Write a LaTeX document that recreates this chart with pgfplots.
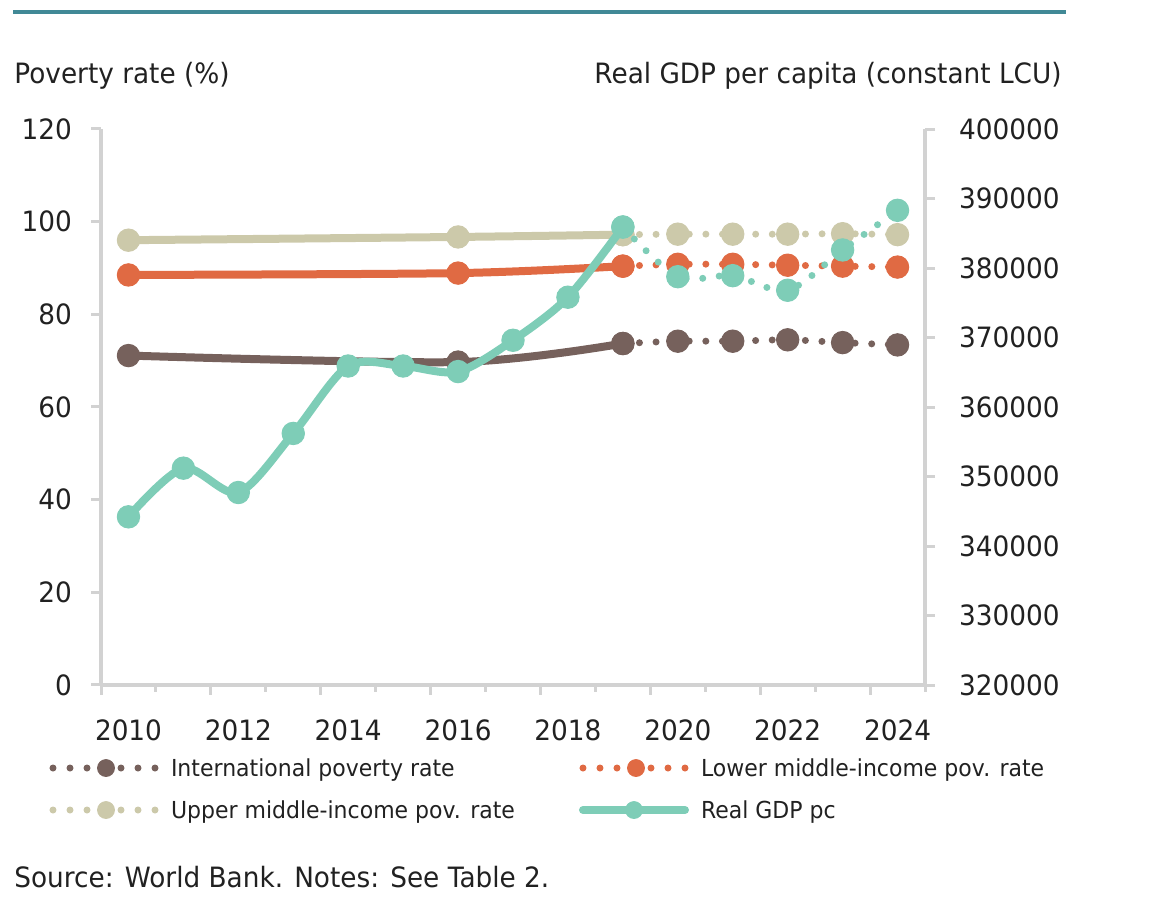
\documentclass[border=0pt]{standalone}
\usepackage{pgfplots}
\pgfplotsset{compat=1.18}
\usepackage{fontspec}
\setmainfont{DejaVu Sans}[FakeStretch=0.94]

\definecolor{intl}{RGB}{118,97,92}
\definecolor{lmic}{RGB}{224,106,67}
\definecolor{umic}{RGB}{204,201,170}
\definecolor{gdp}{RGB}{126,205,183}
\definecolor{axgray}{RGB}{210,210,210}
\definecolor{topline}{RGB}{65,137,150}
\definecolor{txt}{RGB}{33,33,33}

\newcommand{\chartfont}{\fontsize{14}{17}\selectfont}
\newcommand{\legfont}{\fontsize{11.7}{14}\selectfont}

\pgfplotsset{
  base/.style={
    at={(50.5pt,107.5pt)}, anchor=south west,
    scale only axis, width=412pt, height=278pt,
    xmin=2009.5, xmax=2024.5, clip=false,
    axis line style={axgray, line width=2pt, -},
    tick style={axgray, line width=1.5pt},
    major tick length=5pt, minor tick length=3.5pt,
    tick align=outside,
    ticklabel style={font=\chartfont, text=txt},
    /pgf/number format/assume math mode=true,
  },
  solidline/.style={smooth, line width=4pt, line cap=round, color=#1,
    mark=*, mark size=5.6pt, mark options={solid, fill=#1, draw=#1, line width=0.5pt}},
  dotline/.style={smooth, line width=3.5pt, line cap=round, color=#1,
    dash pattern=on 0pt off 8.3pt,
    mark=*, mark size=5.6pt, mark options={solid, fill=#1, draw=#1, line width=0.5pt}},
  dotimage/.style={legend image code/.code={
    \path[draw=none, fill=none] (-1.75pt,-5pt) rectangle (56pt,5pt);
    \draw[#1, line width=3.5pt, line cap=round, dash pattern=on 0pt off 8.5pt] (0pt,0pt) -- (51.1pt,0pt);
    \fill[#1] (26.5pt,0pt) circle (4.25pt);}},
}

\begin{document}
\begin{tikzpicture}
\useasboundingbox (0,0) rectangle (581pt,450pt);

% poverty rates, left axis
\begin{axis}[base,
    axis x line*=bottom, axis y line*=left,
    ymin=0, ymax=120, ytick={0,20,...,120},
    yticklabel style={xshift=-6pt},
    xtick={2009.5,2011.5,...,2023.5},
    xticklabels={2010,2012,2014,2016,2018,2020,2022,2024},
    xticklabel style={xshift=13.75pt, yshift=-9pt},
    minor xtick={2010.5,2012.5,...,2024.5},
]
\addplot[solidline=intl] coordinates {
  (2010,71.1) (2016,69.7) (2019,73.7)};
\addplot[dotline=intl] coordinates {
  (2019,73.7) (2020,74.2) (2021,74.2) (2022,74.5) (2023,73.9) (2024,73.4)};
\addplot[solidline=lmic] coordinates {
  (2010,88.5) (2016,88.9) (2019,90.4)};
\addplot[dotline=lmic] coordinates {
  (2019,90.4) (2020,90.8) (2021,90.8) (2022,90.6) (2023,90.4) (2024,90.2)};
\addplot[solidline=umic] coordinates {
  (2010,96.0) (2016,96.7) (2019,97.2)};
\addplot[dotline=umic] coordinates {
  (2019,97.2) (2020,97.3) (2021,97.3) (2022,97.3) (2023,97.4) (2024,97.2)};
\end{axis}

% real GDP per capita, right axis
\begin{axis}[base,
    axis x line=none, axis y line*=right,
    ymin=320000, ymax=400000, ytick={320000,330000,...,400000},
    scaled y ticks=false,
    yticklabel style={xshift=8.5pt, /pgf/number format/fixed, /pgf/number format/1000 sep={}},
    legend style={draw=none, fill=none, inner sep=0pt, outer sep=0pt,
      at={(-0.0625,-0.1308)}, anchor=north west,
      font=\legfont, text=txt, row sep=10.7pt,
      nodes={inner xsep=3pt, inner ysep=0pt, text height=9.5pt, text depth=0.8pt}},
    legend columns=2, legend cell align=left,
]
\addplot[solidline=gdp, forget plot] coordinates {
  (2010,344200) (2011,351200) (2012,347700) (2013,356200) (2014,365900)
  (2015,365900) (2016,365100) (2017,369600) (2018,375800) (2019,385900)};
\addplot[dotline=gdp, forget plot] coordinates {
  (2019,385900) (2020,378750) (2021,378900) (2022,376800) (2023,382600) (2024,388300)};

\addlegendimage{dotimage=intl}
\addlegendentry{\makebox[201pt][l]{International poverty rate}}
\addlegendimage{dotimage=lmic}
\addlegendentry{Lower middle-income pov. rate}
\addlegendimage{dotimage=umic}
\addlegendentry{\makebox[201pt][l]{Upper middle-income pov. rate}}
\addlegendimage{legend image code/.code={
  \path[draw=none, fill=none] (-1.75pt,-5pt) rectangle (56pt,5pt);
  \draw[gdp, line width=4pt, line cap=round] (0pt,0pt) -- (51pt,0pt);
  \fill[gdp] (25.5pt,0pt) circle (4.25pt);}}
\addlegendentry{Real GDP pc}
\end{axis}

\draw[topline, line width=2pt] (6.5pt,444pt) -- (533pt,444pt);
\node[anchor=base west, inner sep=0pt, font=\chartfont, text=txt] at (7pt,408pt) {Poverty rate (\%)};
\node[anchor=base east, inner sep=0pt, font=\chartfont, text=txt] at (531pt,408pt) {Real GDP per capita (constant LCU)};
\node[anchor=base west, inner sep=0pt, font=\chartfont, text=txt] at (7pt,6.5pt) {Source: World Bank. Notes: See Table 2.};
\end{tikzpicture}
\end{document}
